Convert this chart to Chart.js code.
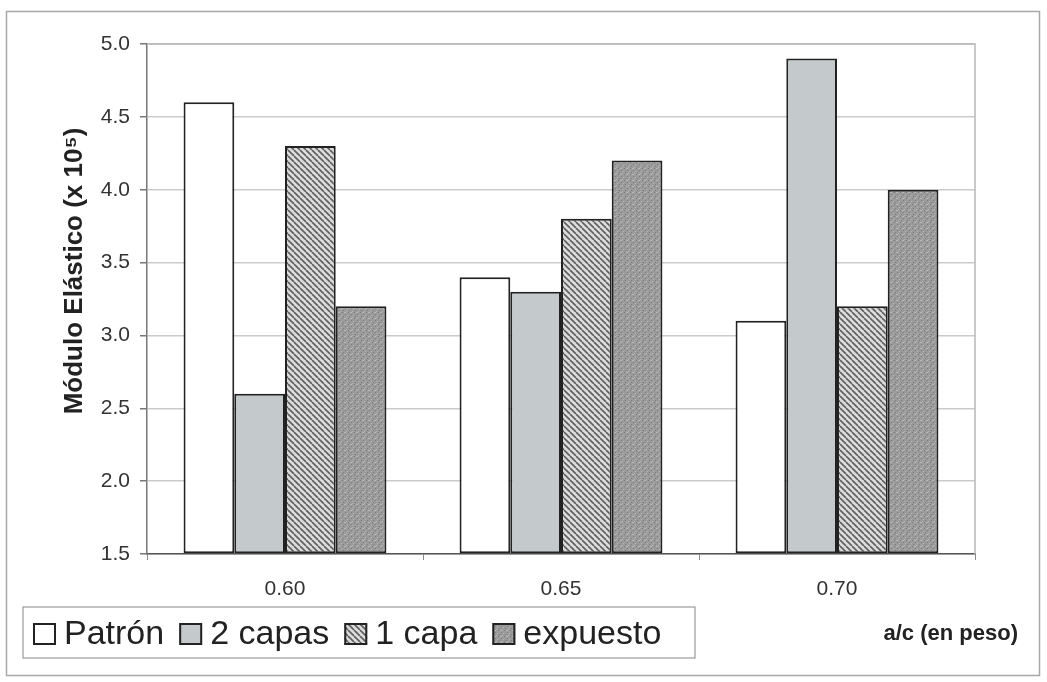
<!DOCTYPE html>
<html lang="es">

<head>
  <meta charset="utf-8">
  <title>Modulo elastico</title>
  <script src="https://cdn.jsdelivr.net/npm/chart.js@4.4.1/dist/chart.umd.min.js"></script>
  <style>
    body { margin: 0; background: #fff; }
    #wrap { width: 1047px; height: 682px; }
  </style>
</head>

<body>
  <div id="wrap">
    <canvas id="mychart" width="1047" height="682"></canvas>
  </div>

  <script>
    // datos
    var categories = ['0.60', '0.65', '0.70'];
    var seriesNames = ['Patrón', '2 capas', '1 capa', 'expuesto'];
    var patron = [4.6, 3.4, 3.1];
    var dosCapas = [2.6, 3.3, 4.9];
    var unaCapa = [4.3, 3.8, 3.2];
    var expuesto = [3.2, 4.2, 4.0];
    var yMin = 1.5, yMax = 5.0, yStep = 0.5;
    var yTitle = 'Módulo Elástico (x 10⁵)';
    var xTitle = 'a/c (en peso)';

    var FONT = '"Liberation Sans", Arial, sans-serif';

    function makePattern(kind) {
      var c = document.createElement('canvas');
      var s = 6;
      c.width = s; c.height = s;
      var g = c.getContext('2d');
      if (kind == 'hatch') {
        g.fillStyle = '#dcdcdc';
        g.fillRect(0, 0, s, s);
        g.strokeStyle = '#5e5e5e';
        g.lineWidth = 1.6;
        for (var i = -s; i <= s; i += s) {
          g.beginPath();
          g.moveTo(i, 0);
          g.lineTo(i + s, s);
          g.stroke();
        }
      } else {
        g.fillStyle = '#9b9b9b';
        g.fillRect(0, 0, s, s);
        g.fillStyle = '#7a7a7a';
        g.fillRect(0, 0, 1, 1); g.fillRect(3, 2, 1, 1); g.fillRect(1, 4, 1, 1);
        g.fillStyle = '#b6b6b6';
        g.fillRect(2, 0, 2, 1); g.fillRect(5, 3, 1, 1); g.fillRect(4, 5, 1, 1);
      }
      return document.getElementById('mychart').getContext('2d').createPattern(c, 'repeat');
    }

    var fills = ['#ffffff', '#c4c9cb', makePattern('hatch'), makePattern('dots')];
    var values = [patron, dosCapas, unaCapa, expuesto];

    var datasets = [];
    for (var k = 0; k < seriesNames.length; k++) {
      datasets.push({
        label: seriesNames[k],
        data: values[k],
        backgroundColor: fills[k],
        borderColor: '#222222',
        borderWidth: 2,
        borderSkipped: false,
        base: yMin,
        barPercentage: 1.0,
        categoryPercentage: 0.735
      });
    }

    // marco exterior + borde del area de grafico + titulo eje y
    var framePlugin = {
      id: 'frame',
      beforeDraw: function (chart) {
        var ctx = chart.ctx;
        ctx.save();
        ctx.fillStyle = '#fff';
        ctx.fillRect(0, 0, chart.width, chart.height);
        ctx.strokeStyle = '#a8a8a8';
        ctx.lineWidth = 1.5;
        ctx.strokeRect(6.5, 11.5, 1033, 664);

        ctx.translate(75, 271);
        ctx.rotate(-Math.PI / 2);
        ctx.font = 'bold 26px ' + FONT;
        ctx.textAlign = 'center';
        ctx.textBaseline = 'middle';
        ctx.fillStyle = '#222';
        ctx.fillText(yTitle, 0, 0);
        ctx.restore();
      },
      beforeDatasetsDraw: function (chart) {
        var a = chart.chartArea;
        var ctx = chart.ctx;
        ctx.save();
        ctx.strokeStyle = '#b8b8b8';
        ctx.lineWidth = 1.5;
        ctx.beginPath();
        ctx.moveTo(a.left, a.top);
        ctx.lineTo(a.right, a.top);
        ctx.lineTo(a.right, a.bottom);
        ctx.stroke();
        ctx.restore();
      }
    };

    // leyenda con recuadro y titulo del eje x a la derecha
    var legendPlugin = {
      id: 'boxLegend',
      afterDraw: function (chart) {
        var ctx = chart.ctx;
        ctx.save();
        ctx.strokeStyle = '#9a9a9a';
        ctx.lineWidth = 1.2;
        ctx.strokeRect(23, 607, 672, 51);

        ctx.font = '34px ' + FONT;
        ctx.textBaseline = 'middle';
        ctx.textAlign = 'left';
        var x = 33;
        chart.data.datasets.forEach(function (ds) {
          ctx.fillStyle = ds.backgroundColor;
          ctx.fillRect(x, 623, 23, 22);
          ctx.strokeStyle = '#222';
          ctx.lineWidth = 2;
          ctx.strokeRect(x + 1, 624, 21, 20);
          ctx.fillStyle = '#222';
          ctx.fillText(ds.label, x + 31, 635);
          x += 31 + ctx.measureText(ds.label).width + 15;
        });

        ctx.font = 'bold 22px ' + FONT;
        ctx.textAlign = 'right';
        ctx.fillStyle = '#222';
        ctx.fillText(xTitle, 1018, 634);
        ctx.restore();
      }
    };

    var ctx = document.getElementById('mychart').getContext('2d');
    var chart = new Chart(ctx, {
      type: 'bar',
      data: {
        labels: categories,
        datasets: datasets
      },
      options: {
        responsive: false,
        devicePixelRatio: 1,
        animation: false,
        layout: {
          padding: { top: 44, right: 72, left: 0, bottom: 0 }
        },
        plugins: {
          legend: { display: false },
          tooltip: { enabled: false }
        },
        scales: {
          x: {
            afterFit: function (s) { s.height = 128; },
            grid: {
              offset: true,
              drawOnChartArea: false,
              drawTicks: true,
              tickLength: 6,
              color: '#8a8a8a'
            },
            border: { display: true, color: '#555', width: 1.5 },
            ticks: {
              padding: 17,
              color: '#333',
              font: { family: FONT, size: 21 }
            }
          },
          y: {
            min: yMin,
            max: yMax,
            afterFit: function (s) { s.width = 147; },
            grid: {
              color: '#cbcbcb',
              lineWidth: 1.5,
              drawTicks: true,
              tickLength: 7,
              tickColor: '#777'
            },
            border: { display: true, color: '#777', width: 1.5 },
            ticks: {
              stepSize: yStep,
              padding: 10,
              color: '#333',
              font: { family: FONT, size: 21 },
              callback: function (v) { return Number(v).toFixed(1); }
            }
          }
        }
      },
      plugins: [framePlugin, legendPlugin]
    });
  </script>

</body>

</html>
